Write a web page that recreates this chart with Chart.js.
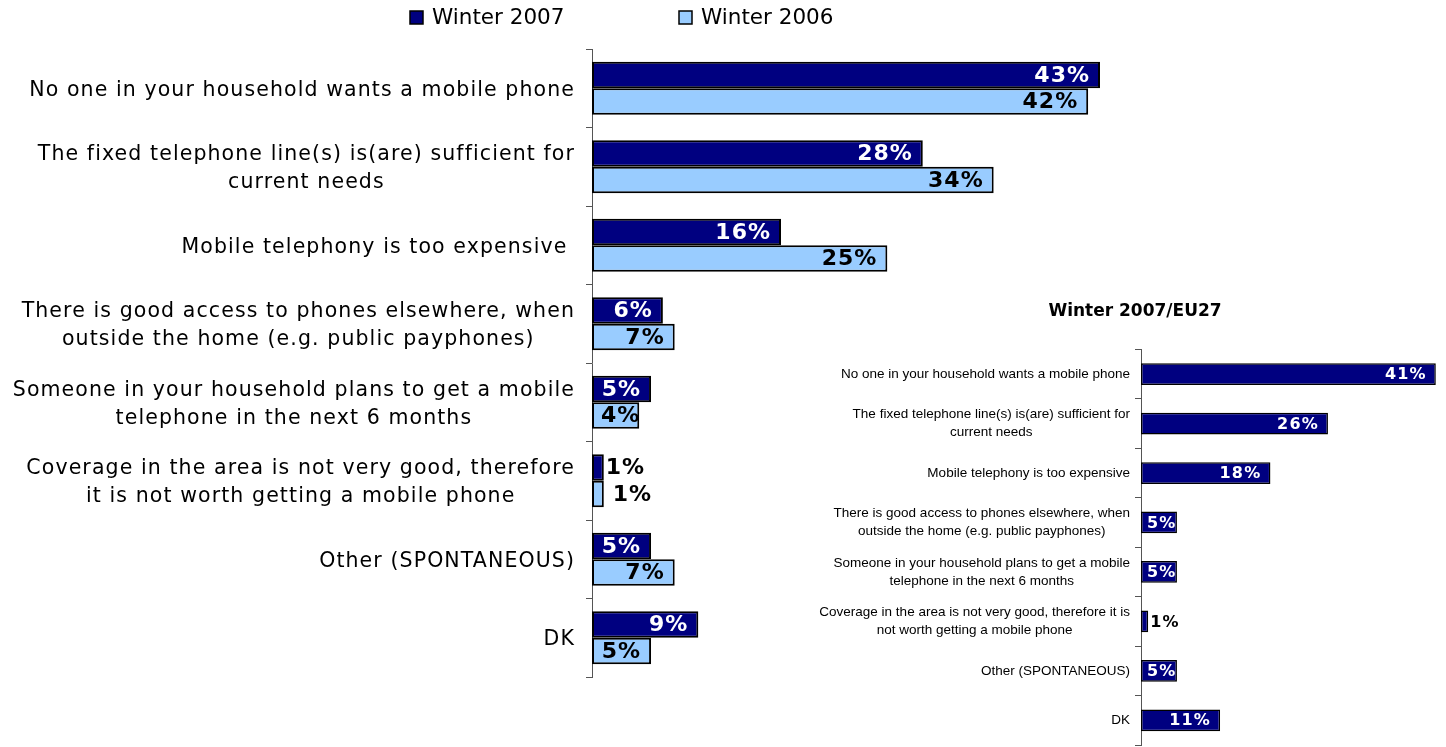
<!DOCTYPE html>
<html>
<head>
<meta charset="utf-8">
<script src="https://cdn.jsdelivr.net/npm/chart.js@4/dist/chart.umd.min.js"></script>
<style>
  html, body { margin: 0; padding: 0; background: #fff; overflow: hidden; }
  #page { position: relative; width: 1446px; height: 747px; overflow: hidden; }
  canvas { position: absolute; }
  #main { left: 0; top: 0; }
  #eu27 { left: 800px; top: 290px; }
</style>
</head>
<body>
<div id="page">
  <canvas id="main" width="1250" height="700"></canvas>
  <canvas id="eu27" width="646" height="457"></canvas>
</div>
<script>
// reasons for not having a mobile phone, % of respondents
const mainLabels = [
  'No one in your household wants a mobile phone',
  ['The fixed telephone line(s) is(are) sufficient for', 'current needs'],
  'Mobile telephony is too expensive ',
  ['There is good access to phones elsewhere, when', 'outside the home (e.g. public payphones)'],
  ['Someone in your household plans to get a mobile', 'telephone in the next 6 months'],
  ['Coverage in the area is not very good, therefore', 'it is not worth getting a mobile phone'],
  'Other (SPONTANEOUS)',
  'DK'
];
const euLabels = [
  'No one in your household wants a mobile phone',
  ['The fixed telephone line(s) is(are) sufficient for', 'current needs'],
  'Mobile telephony is too expensive',
  ['There is good access to phones elsewhere, when', 'outside the home (e.g. public payphones)'],
  ['Someone in your household plans to get a mobile', 'telephone in the next 6 months'],
  ['Coverage in the area is not very good, therefore it is', 'not worth getting a mobile phone'],
  'Other (SPONTANEOUS)',
  'DK'
];
const winter2007 = [43, 28, 16, 6, 5, 1, 5, 9];
const winter2006 = [42, 34, 25, 7, 4, 1, 7, 5];
const winter2007EU27 = [41, 26, 18, 5, 5, 1, 5, 11];

const NAVY = '#000080';
const SKY = '#99CCFF';

// category names right-aligned next to the axis, wrapped lines centred on each other
const categoryLabels = {
  id: 'categoryLabels',
  afterDraw(chart, args, opts) {
    const { ctx } = chart;
    const scale = chart.scales.y;
    ctx.save();
    ctx.font = opts.font;
    ctx.letterSpacing = opts.spacing + 'px';
    ctx.fillStyle = opts.color;
    ctx.textAlign = 'center';
    ctx.textBaseline = 'middle';
    chart.data.labels.forEach((label, i) => {
      const lines = [].concat(label);
      const widest = Math.max(...lines.map(l => ctx.measureText(l).width));
      const cx = scale.right - opts.gap - widest / 2;
      const y0 = scale.getPixelForValue(i) + opts.shift - (lines.length - 1) * opts.lineHeight / 2;
      lines.forEach((l, k) => ctx.fillText(l, cx, y0 + k * opts.lineHeight));
    });
    ctx.restore();
  }
};

// percentage labels at the inner end of each bar (outside for tiny bars)
const barValues = {
  id: 'barValues',
  afterDatasetsDraw(chart, args, opts) {
    const { ctx } = chart;
    ctx.save();
    ctx.font = opts.font;
    ctx.letterSpacing = opts.spacing + 'px';
    ctx.textAlign = 'left';
    ctx.textBaseline = 'middle';
    chart.data.datasets.forEach((ds, d) => {
      chart.getDatasetMeta(d).data.forEach((bar, i) => {
        const v = ds.data[i];
        const text = v + '%';
        const w = ctx.measureText(text).width;
        let x;
        if (v <= 1) {
          x = bar.x + opts.outside[d];
          ctx.fillStyle = '#000';
        } else {
          x = Math.max(bar.x - opts.inset - w, bar.base + opts.minStart);
          ctx.fillStyle = opts.colors[d];
        }
        ctx.fillText(text, x, bar.y + 1);
      });
    });
    ctx.restore();
  }
};

// legend row above the main chart
const legendRow = {
  id: 'legendRow',
  afterDraw(chart, args, opts) {
    const { ctx } = chart;
    ctx.save();
    ctx.font = opts.font;
    ctx.textAlign = 'left';
    ctx.textBaseline = 'middle';
    chart.data.datasets.forEach((ds, d) => {
      const x = opts.x[d];
      ctx.fillStyle = ds.backgroundColor;
      ctx.fillRect(x, opts.y - 6.5, 13, 13);
      ctx.strokeStyle = '#000';
      ctx.lineWidth = 1.5;
      ctx.strokeRect(x, opts.y - 6.5, 13, 13);
      ctx.fillStyle = '#000';
      ctx.fillText(ds.label, x + 22, opts.y + 1);
    });
    ctx.restore();
  }
};

function yAxis(width) {
  return {
    afterFit: (scale) => { scale.width = width; },
    ticks: { display: false },
    grid: { drawOnChartArea: false, drawTicks: true, tickLength: 6, color: '#555', offset: true },
    border: { display: true, color: '#555', width: 1 }
  };
}

new Chart(document.getElementById('main'), {
  type: 'bar',
  data: {
    labels: mainLabels,
    datasets: [
      { label: 'Winter 2007', data: winter2007, backgroundColor: NAVY, borderColor: '#000', borderWidth: 2, borderSkipped: false },
      { label: 'Winter 2006', data: winter2006, backgroundColor: SKY, borderColor: '#000', borderWidth: 2, borderSkipped: false }
    ]
  },
  options: {
    indexAxis: 'y',
    responsive: false,
    animation: false,
    layout: { padding: { top: 49, right: 67.3, bottom: 23, left: 0 } },
    datasets: { bar: { barPercentage: 1, categoryPercentage: 0.675 } },
    scales: {
      x: { display: false, min: 0, max: 50 },
      y: yAxis(592)
    },
    plugins: {
      legend: { display: false },
      tooltip: { enabled: false },
      categoryLabels: { font: '20.5px "DejaVu Sans"', spacing: 1.1, color: '#000', gap: 17, lineHeight: 28, shift: 2 },
      barValues: { font: 'bold 22px "DejaVu Sans"', spacing: 1, colors: ['#fff', '#000'], inset: 10, minStart: 9, outside: [2, 9] },
      legendRow: { font: '21.5px "DejaVu Sans"', x: [410, 679], y: 17.5 }
    }
  },
  plugins: [categoryLabels, barValues, legendRow]
});

new Chart(document.getElementById('eu27'), {
  type: 'bar',
  data: {
    labels: euLabels,
    datasets: [
      { label: 'Winter 2007/EU27', data: winter2007EU27, backgroundColor: NAVY, borderColor: '#000', borderWidth: 1.5, borderSkipped: false }
    ]
  },
  options: {
    indexAxis: 'y',
    responsive: false,
    animation: false,
    layout: { padding: { top: 8, right: 3, bottom: 2, left: 27 } },
    datasets: { bar: { barPercentage: 1, categoryPercentage: 0.44 } },
    scales: {
      x: { display: false, min: 0, max: 42 },
      y: yAxis(314)
    },
    plugins: {
      legend: { display: false },
      tooltip: { enabled: false },
      title: {
        display: true,
        text: 'Winter 2007/EU27',
        color: '#000',
        font: { family: 'DejaVu Sans', size: 17, weight: 'bold' },
        padding: { top: 3, bottom: 28 }
      },
      categoryLabels: { font: '13.5px "Liberation Sans"', spacing: 0, color: '#000', gap: 11, lineHeight: 18, shift: 0 },
      barValues: { font: 'bold 16px "DejaVu Sans"', spacing: 1.2, colors: ['#fff'], inset: 9, minStart: 6, outside: [2] }
    }
  },
  plugins: [categoryLabels, barValues]
});
</script>
</body>
</html>
